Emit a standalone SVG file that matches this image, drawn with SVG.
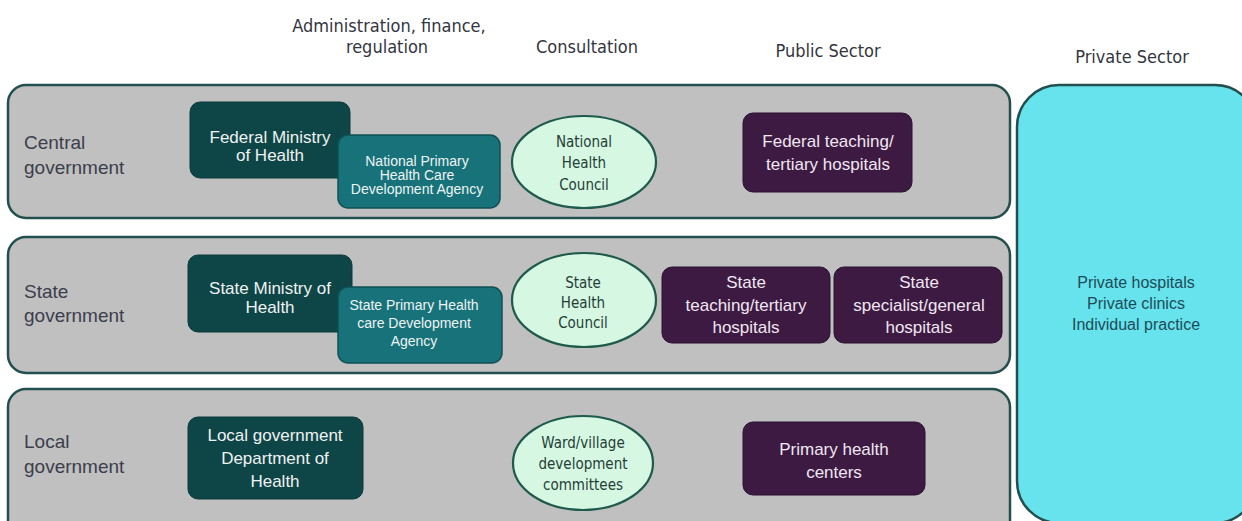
<svg xmlns="http://www.w3.org/2000/svg" width="1242" height="521" viewBox="0 0 1242 521">
<style>
.hdr{font-family:"DejaVu Sans Condensed","DejaVu Sans",sans-serif;font-stretch:condensed;font-size:18px;fill:#33353f;text-anchor:middle}
.band{fill:#c0c0c0;stroke:#244f4f;stroke-width:2.5}
.lvl{font-family:"Liberation Sans",Arial,sans-serif;font-size:19px;fill:#3c3e4c}
.dark{fill:#0e4546;stroke:#0a3a3a;stroke-width:1}
.mid{fill:#18727a;stroke:#0f5055;stroke-width:1.5}
.purp{fill:#3c1a42;stroke:#2a1230;stroke-width:1}
.ell{fill:#d6f7e2;stroke:#1f5a4c;stroke-width:2.2}
.bt{font-family:"Liberation Sans",Arial,sans-serif;font-size:17px;fill:#eef2f2;text-anchor:middle}
.pt{font-family:"Liberation Sans",Arial,sans-serif;font-size:17px;fill:#f1e6f1;text-anchor:middle}
.st{font-family:"Liberation Sans",Arial,sans-serif;font-size:14px;fill:#eef4f4;text-anchor:middle}
.et{font-family:"DejaVu Sans Condensed","DejaVu Sans",sans-serif;font-stretch:condensed;font-size:15px;fill:#243e36;text-anchor:middle}
.priv{fill:#66e3ed;stroke:#244f4f;stroke-width:2.5}
.pvt{font-family:"Liberation Sans",Arial,sans-serif;font-size:16px;fill:#1f4b57;text-anchor:middle}
</style>
<rect width="1242" height="521" fill="#ffffff"/>
<g id="headers">
<text class="hdr" x="389" y="32">Administration, finance,</text>
<text class="hdr" x="387" y="53">regulation</text>
<text class="hdr" x="587" y="53">Consultation</text>
<text class="hdr" x="828" y="57">Public Sector</text>
<text class="hdr" x="1132" y="63">Private Sector</text>
</g>
<g id="band-central">
<rect class="band" x="8" y="85" width="1002" height="133" rx="18"/>
<text class="lvl" x="24" y="149">Central</text>
<text class="lvl" x="24" y="174">government</text>
</g>
<g id="band-state">
<rect class="band" x="8" y="237" width="1002" height="136" rx="18"/>
<text class="lvl" x="24" y="298">State</text>
<text class="lvl" x="24" y="322">government</text>
</g>
<g id="band-local">
<rect class="band" x="8" y="389" width="1002" height="150" rx="18"/>
<text class="lvl" x="24" y="448">Local</text>
<text class="lvl" x="24" y="473">government</text>
</g>
<g id="fmoh">
<rect class="dark" x="190" y="102" width="160" height="76" rx="10"/>
<text class="bt" x="270" y="143">Federal Ministry</text>
<text class="bt" x="270" y="161">of Health</text>
</g>
<g id="nphcda">
<rect class="mid" x="338" y="135" width="162" height="73" rx="10"/>
<text class="st" x="417" y="166" font-size="12">National Primary</text>
<text class="st" x="417" y="180" font-size="12">Health Care</text>
<text class="st" x="417" y="194" font-size="12">Development Agency</text>
</g>
<g id="nhc">
<ellipse class="ell" cx="584" cy="162" rx="72" ry="46"/>
<text class="et" x="584" y="147">National</text>
<text class="et" x="584" y="168">Health</text>
<text class="et" x="584" y="190">Council</text>
</g>
<g id="federal-hospitals">
<rect class="purp" x="743" y="113" width="169" height="79" rx="10"/>
<text class="pt" x="828" y="147">Federal teaching/</text>
<text class="pt" x="828" y="170">tertiary hospitals</text>
</g>
<g id="smoh">
<rect class="dark" x="188" y="255" width="164" height="77" rx="10"/>
<text class="bt" x="270" y="294">State Ministry of</text>
<text class="bt" x="270" y="313">Health</text>
</g>
<g id="sphcda">
<rect class="mid" x="338" y="287" width="164" height="76" rx="10"/>
<text class="st" x="414" y="310">State Primary Health</text>
<text class="st" x="414" y="328">care Development</text>
<text class="st" x="414" y="346">Agency</text>
</g>
<g id="shc">
<ellipse class="ell" cx="584" cy="300" rx="72" ry="47"/>
<text class="et" x="583" y="288">State</text>
<text class="et" x="583" y="308">Health</text>
<text class="et" x="583" y="328">Council</text>
</g>
<g id="state-teaching">
<rect class="purp" x="662" y="267" width="168" height="76" rx="10"/>
<text class="pt" x="746" y="288">State</text>
<text class="pt" x="746" y="311">teaching/tertiary</text>
<text class="pt" x="746" y="333">hospitals</text>
</g>
<g id="state-specialist">
<rect class="purp" x="834" y="267" width="168" height="76" rx="10"/>
<text class="pt" x="919" y="288">State</text>
<text class="pt" x="919" y="311">specialist/general</text>
<text class="pt" x="919" y="333">hospitals</text>
</g>
<g id="lgdoh">
<rect class="dark" x="188" y="417" width="175" height="82" rx="10"/>
<text class="bt" x="275" y="441">Local government</text>
<text class="bt" x="275" y="464">Department of</text>
<text class="bt" x="275" y="487">Health</text>
</g>
<g id="wdc">
<ellipse class="ell" cx="583" cy="463" rx="70" ry="47"/>
<text class="et" x="583" y="448">Ward/village</text>
<text class="et" x="583" y="469">development</text>
<text class="et" x="583" y="490">committees</text>
</g>
<g id="phc">
<rect class="purp" x="743" y="422" width="182" height="73" rx="10"/>
<text class="pt" x="834" y="455">Primary health</text>
<text class="pt" x="834" y="478">centers</text>
</g>
<g id="private">
<rect class="priv" x="1017" y="85" width="240" height="438" rx="42"/>
<text class="pvt" x="1136" y="288">Private hospitals</text>
<text class="pvt" x="1136" y="309">Private clinics</text>
<text class="pvt" x="1136" y="330">Individual practice</text>
</g>
<g id="connectors"></g>
</svg>
